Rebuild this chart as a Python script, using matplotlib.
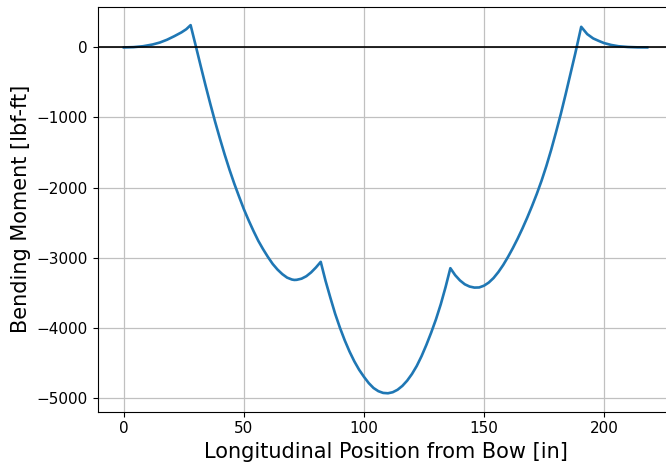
import numpy as np
import matplotlib
matplotlib.use("Agg")
import matplotlib.pyplot as plt

# posição ao longo do casco [in] e momento fletor [lbf-ft]
x_pos = [0, 4, 8, 12, 15, 18, 21, 24, 26, 27.8,
         30, 32, 34, 36, 38, 40, 42, 44, 46, 48, 50,
         52, 54, 56, 58, 60, 62, 64, 66, 68, 70, 71, 72, 74, 76, 78, 80, 82,
         84, 86, 88, 90, 92, 94, 96, 98, 100, 102, 104, 106, 108, 110,
         112, 114, 116, 118, 120, 122, 124, 126, 128, 130, 132, 134, 136,
         138, 140, 142, 144, 146, 148, 150, 152, 154, 156, 158, 160,
         162, 164, 166, 168, 170, 172, 174, 176, 178, 180, 182, 184, 186, 188,
         190.5, 193, 195.5, 198, 200, 203, 206, 210, 214, 218]
moment = [0, 4, 17, 42, 70, 110, 160, 215, 260, 318,
          15, -265, -540, -805, -1060, -1300, -1530, -1745, -1945, -2130, -2310,
          -2470, -2620, -2760, -2880, -2990, -3090, -3170, -3235, -3285, -3312, -3318, -3316, -3300, -3265, -3210, -3140, -3060,
          -3330, -3570, -3800, -4000, -4180, -4340, -4480, -4600, -4700, -4790, -4860, -4905, -4930, -4935,
          -4920, -4885, -4830, -4755, -4660, -4545, -4405, -4245, -4070, -3880, -3665, -3420, -3150,
          -3250, -3325, -3380, -3412, -3427, -3425, -3400, -3355, -3290, -3205, -3105, -2990,
          -2865, -2730, -2585, -2430, -2265, -2090, -1900, -1690, -1460, -1210, -950, -670, -380, -90,
          294, 190, 128, 90, 62, 35, 17, 6, 1, 0]

fig = plt.figure(figsize=(6.66, 4.67), dpi=100)
ax = fig.add_axes([97.7/666, 1 - 411.7/467, (673.4 - 97.7)/666, (411.7 - 6.7)/467])

ax.plot(x_pos, moment, color='#1f77b4', lw=1.9)
ax.axhline(0, color='k', lw=1.2)
ax.grid(True, color='#c0c0c0', lw=0.9)

ax.set_xlim(-10.9, 228.9)
ax.set_ylim(-5198, 581)
ax.set_xticks([0, 50, 100, 150, 200])
ax.set_yticks([0, -1000, -2000, -3000, -4000, -5000])
ax.tick_params(labelsize=11)

ax.set_xlabel("Longitudinal Position from Bow [in]", fontsize=15)
ax.set_ylabel("Bending Moment [lbf-ft]", fontsize=15)
ax.spines['right'].set_visible(False)

fig.savefig("out.png", dpi=100)
